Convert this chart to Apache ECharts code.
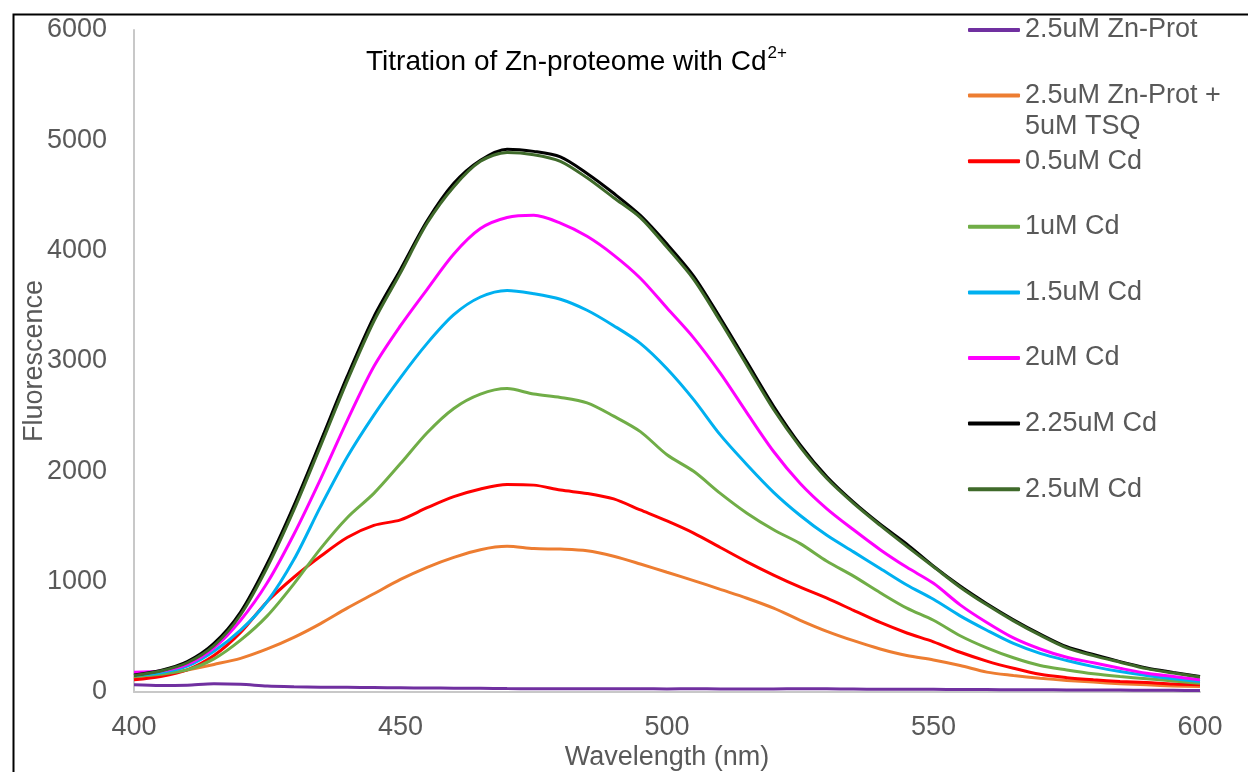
<!DOCTYPE html>
<html>
<head>
<meta charset="utf-8">
<title>Titration of Zn-proteome with Cd2+</title>
<script src="https://cdn.jsdelivr.net/npm/echarts@6/dist/echarts.min.js"></script>
<style>
  html, body { margin: 0; padding: 0; background: #ffffff; }
  #chart { width: 1248px; height: 772px; }
</style>
</head>
<body>
<div id="chart"></div>
<script>
// Emission wavelengths (nm), 5 nm steps
const wavelengths = [400,405,410,415,420,425,430,435,440,445,450,455,460,465,470,475,480,485,490,495,500,
                     505,510,515,520,525,530,535,540,545,550,555,560,565,570,575,580,585,590,595,600];

const seriesNames = ['2.5uM Zn-Prot', '2.5uM Zn-Prot + 5uM TSQ', '0.5uM Cd', '1uM Cd',
                     '1.5uM Cd', '2uM Cd', '2.25uM Cd', '2.5uM Cd'];

// Fluorescence intensity for each sample
const znProt = [65,58,62,75,70,55,48,44,42,40,38,36,35,33,31,30,30,29,30,29,28,
                29,28,27,28,30,29,27,25,24,24,23,22,21,20,19,18,17,16,15,14];
const znProtTSQ = [125,160,200,250,305,390,495,620,760,890,1020,1130,1220,1290,1320,1300,1295,1280,1230,1160,1085,
                   1010,930,850,760,650,550,465,390,330,290,240,180,150,125,105,90,75,65,55,50];
const cd05 = [110,140,200,330,540,820,1040,1230,1400,1510,1560,1670,1770,1840,1880,1875,1830,1800,1750,1650,1550,
              1440,1310,1180,1060,950,850,740,630,535,455,360,280,215,160,130,110,95,85,72,65];
const cd10 = [140,160,200,300,470,690,980,1300,1580,1800,2070,2350,2570,2700,2750,2700,2670,2620,2500,2360,2150,
              2000,1800,1620,1470,1345,1185,1050,900,760,650,510,400,310,240,200,165,140,120,100,80];
const cd15 = [150,175,235,370,560,820,1200,1680,2130,2510,2850,3160,3420,3580,3640,3610,3560,3460,3320,3160,2930,
              2650,2330,2060,1810,1600,1420,1270,1120,970,840,690,560,440,350,285,230,185,150,120,95];
const cd20 = [180,190,250,400,650,990,1430,1930,2460,2950,3320,3650,3970,4200,4300,4320,4250,4130,3960,3750,3480,
              3210,2890,2530,2180,1890,1660,1470,1290,1130,985,790,630,490,390,315,265,215,170,140,110];
const cd225 = [155,195,275,440,725,1165,1690,2270,2860,3400,3830,4270,4610,4820,4920,4900,4850,4700,4520,4320,4060,
               3770,3390,2990,2590,2240,1950,1720,1520,1340,1140,960,800,655,525,410,340,275,218,178,140];
const cd25 = [150,190,265,420,700,1130,1650,2230,2820,3360,3800,4250,4580,4810,4890,4870,4810,4660,4480,4300,4030,
              3740,3360,2960,2560,2220,1935,1710,1510,1320,1135,950,790,645,515,400,330,270,212,172,136];

const seriesValues = [znProt, znProtTSQ, cd05, cd10, cd15, cd20, cd225, cd25];
const seriesColors = ['#7030A0', '#ED7D31', '#FF0000', '#70AD47', '#00B0F0', '#FF00FF', '#000000', '#3F6A2A'];

const xTicks = [400, 450, 500, 550, 600];
const yTicks = [0, 1000, 2000, 3000, 4000, 5000, 6000];

const FONT = '"Liberation Sans", Arial, Helvetica, sans-serif';
const GREY = '#595959';

const chart = echarts.init(document.getElementById('chart'), null, { renderer: 'canvas' });

const series = seriesNames.map((name, i) => ({
  name: name,
  type: 'line',
  data: wavelengths.map((w, k) => [w, seriesValues[i][k]]),
  showSymbol: false,
  symbol: 'none',
  smooth: 0.3,
  lineStyle: { width: 3, color: seriesColors[i] },
  itemStyle: { color: seriesColors[i] },
  emphasis: { disabled: true },
  z: 2 + i
}));

chart.setOption({
  backgroundColor: '#ffffff',
  animation: false,
  title: {
    text: '{t|Titration of Zn-proteome with Cd}{s|2+}',
    left: 366,
    top: 45,
    padding: 0,
    textStyle: {
      fontWeight: 'normal',
      rich: {
        t: { fontFamily: FONT, fontSize: 28, fontWeight: 'normal', color: '#000000', lineHeight: 34 },
        s: { fontFamily: FONT, fontSize: 17, fontWeight: 'normal', color: '#000000', lineHeight: 34,
             verticalAlign: 'top', padding: [0, 0, 14, 1] }
      }
    }
  },
  legend: {
    orient: 'vertical',
    left: 968,
    top: 15,
    padding: 0,
    itemWidth: 52,
    itemHeight: 4,
    itemGap: 35.6,
    icon: 'roundRect',
    selectedMode: false,
    data: seriesNames,
    formatter: function (name) {
      return name === '2.5uM Zn-Prot + 5uM TSQ' ? '2.5uM Zn-Prot +' : name;
    },
    textStyle: { fontFamily: FONT, fontSize: 27, color: GREY, lineHeight: 30 }
  },
  graphic: [
    {
      type: 'rect',
      left: 11, top: 12,
      shape: { width: 1400, height: 1000 },
      style: { fill: 'none', stroke: '#000000', lineWidth: 2 },
      silent: true
    },
    {
      type: 'text',
      left: 1025, top: 113,
      style: { text: '5uM TSQ', font: '27px ' + FONT, fill: GREY },
      silent: true
    }
  ],
  grid: { left: 134, right: 48, top: 30, bottom: 80, containLabel: false, outerBoundsMode: 'none' },
  xAxis: {
    type: 'value',
    min: xTicks[0],
    max: xTicks[xTicks.length - 1],
    interval: 50,
    name: 'Wavelength (nm)',
    nameLocation: 'middle',
    nameGap: 52,
    nameMoveOverlap: false,
    nameTextStyle: { fontFamily: FONT, fontSize: 27, color: GREY },
    axisLine: { show: true, lineStyle: { color: '#C8C8C8', width: 2 } },
    axisTick: { show: false },
    splitLine: { show: false },
    axisLabel: { fontFamily: FONT, fontSize: 27, color: GREY, margin: 22, formatter: v => String(v) }
  },
  yAxis: {
    type: 'value',
    min: yTicks[0],
    max: yTicks[yTicks.length - 1],
    interval: 1000,
    name: 'Fluorescence',
    nameLocation: 'middle',
    nameGap: 86,
    nameMoveOverlap: false,
    nameTextStyle: { fontFamily: FONT, fontSize: 27, color: GREY },
    axisLine: { show: true, lineStyle: { color: '#C8C8C8', width: 2 } },
    axisTick: { show: false },
    splitLine: { show: false },
    axisLabel: { fontFamily: FONT, fontSize: 27, color: GREY, margin: 27, formatter: v => String(v) }
  },
  series: series
});
</script>
</body>
</html>
